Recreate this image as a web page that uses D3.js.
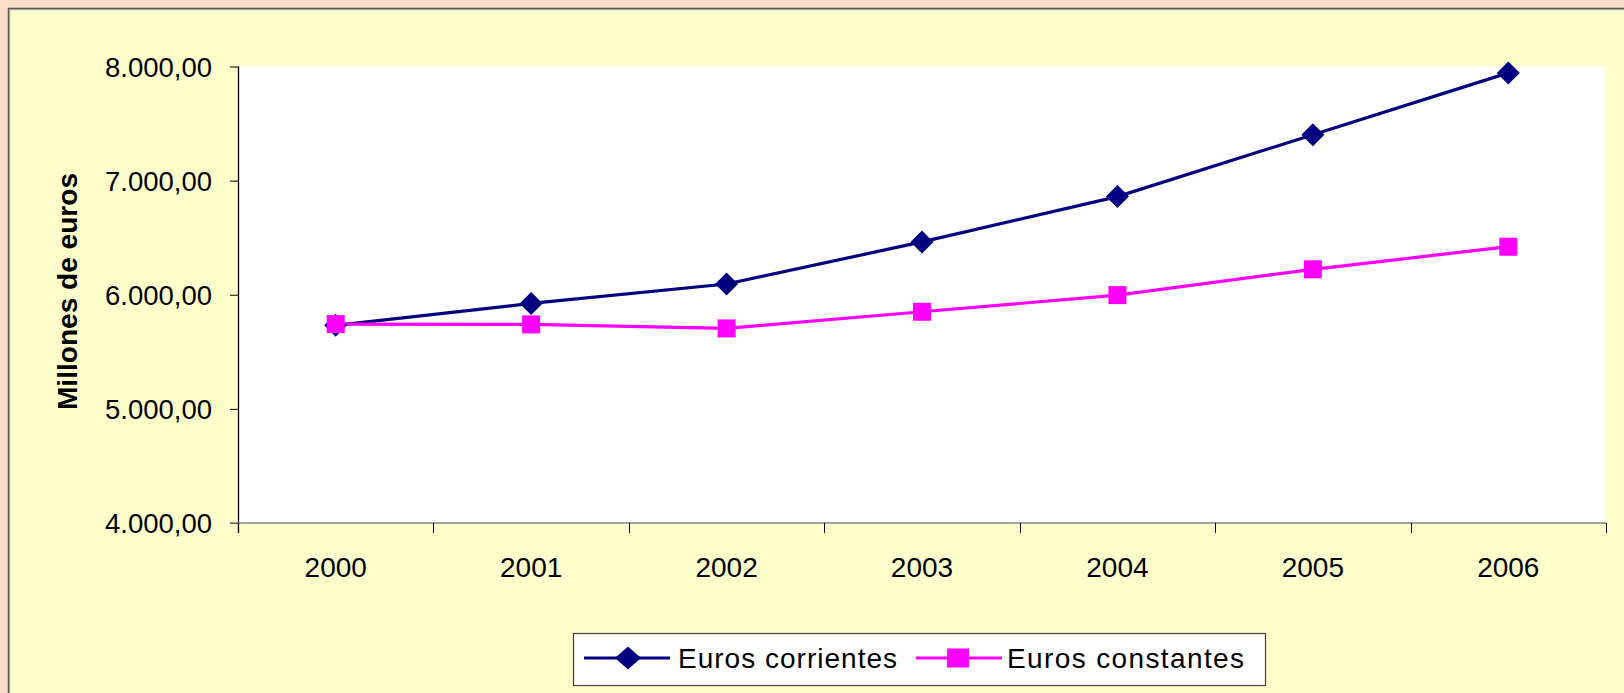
<!DOCTYPE html>
<html>
<head>
<meta charset="utf-8">
<script src="https://cdn.jsdelivr.net/npm/d3@7"></script>
<style>
  html, body { margin: 0; padding: 0; background: #FADEC8; }
  svg { display: block; }
</style>
</head>
<body>
<svg id="chart" width="1624" height="693"></svg>
<script>
const years = ["2000", "2001", "2002", "2003", "2004", "2005", "2006"];
const eurosCorrientes = [5732, 5924, 6094, 6463, 6860, 7402, 7944];
const eurosConstantes = [5743, 5740, 5705, 5851, 5997, 6223, 6421];
const yTicks = [4000, 5000, 6000, 7000, 8000];
const seriesNames = ["Euros corrientes", "Euros constantes"];
const yTitle = "Millones de euros";

const svg = d3.select("#chart");
const W = 1624, H = 693;

// outer frame
svg.append("rect").attr("x", 0).attr("y", 0).attr("width", W).attr("height", H).attr("fill", "#FADEC8");
svg.append("rect").attr("x", 8).attr("y", 8).attr("width", W).attr("height", H).attr("fill", "#FFFFCC");
svg.append("line").attr("x1", 8.5).attr("x2", 8.5).attr("y1", 8).attr("y2", H).attr("stroke", "#5a5a5a").attr("stroke-width", 1.5);
svg.append("line").attr("x1", 8).attr("x2", W).attr("y1", 8.5).attr("y2", 8.5).attr("stroke", "#5a5a5a").attr("stroke-width", 1.5);
svg.append("line").attr("x1", 9.7).attr("x2", 9.7).attr("y1", 9.5).attr("y2", H).attr("stroke", "#9a9a9a").attr("stroke-width", 1);
svg.append("line").attr("x1", 9.5).attr("x2", W).attr("y1", 9.7).attr("y2", 9.7).attr("stroke", "#9a9a9a").attr("stroke-width", 1);

const plotL = 238, plotR = 1606, plotT = 66.5, plotB = 523;

svg.append("rect").attr("x", plotL).attr("y", plotT).attr("width", plotR - plotL).attr("height", plotB - plotT).attr("fill", "#FFFFFF");

const x = d3.scaleBand().domain(years).range([plotL, plotR]).padding(0);
const cx = d => x(d) + x.bandwidth() / 2;
const y = d3.scaleLinear().domain([4000, 8000]).range([plotB, plotT]);

const locale = d3.formatLocale({ decimal: ",", thousands: ".", grouping: [3], currency: ["", "€"] });
const fmt = locale.format(",.2f");

// y axis
const yAxis = d3.axisLeft(y).tickValues(yTicks).tickFormat(fmt).tickSize(8).tickPadding(18);
const gy = svg.append("g").attr("transform", `translate(${plotL},0)`).call(yAxis);
gy.select(".domain").remove();
gy.selectAll(".tick line").attr("stroke", "#000").attr("stroke-width", 1);
gy.selectAll(".tick text").attr("font-family", "'Liberation Sans', Arial, sans-serif").attr("font-size", 27.5).attr("fill", "#000").attr("dy", "0.36em");
svg.append("line").attr("x1", plotL + 0.5).attr("x2", plotL + 0.5).attr("y1", plotT).attr("y2", plotB + 10).attr("stroke", "#000").attr("stroke-width", 1.3);

// x axis
svg.append("line").attr("x1", plotL - 8).attr("x2", plotR).attr("y1", plotB).attr("y2", plotB).attr("stroke", "#808080").attr("stroke-width", 1.5);
const bounds = years.map(d => x(d)).concat([plotR]);
svg.append("g").selectAll("line").data(bounds).join("line")
  .attr("x1", d => Math.round(d) + 0.5).attr("x2", d => Math.round(d) + 0.5)
  .attr("y1", plotB).attr("y2", plotB + 10).attr("stroke", "#000").attr("stroke-width", 1);
svg.append("g").selectAll("text").data(years).join("text")
  .attr("x", d => cx(d)).attr("y", 577)
  .attr("text-anchor", "middle")
  .attr("font-family", "'Liberation Sans', Arial, sans-serif").attr("font-size", 28).attr("fill", "#000")
  .text(d => d);

// y title
svg.append("text")
  .attr("transform", "translate(77,291.5) rotate(-90)")
  .attr("text-anchor", "middle")
  .attr("font-family", "'Liberation Sans', Arial, sans-serif").attr("font-size", 27).attr("font-weight", "bold")
  .attr("textLength", 237).attr("lengthAdjust", "spacingAndGlyphs")
  .attr("fill", "#000")
  .text(yTitle);

// lines
const line = d3.line().x((d, i) => cx(years[i])).y(d => y(d));
const colors = ["#000080", "#FF00FF"];
const data = [eurosCorrientes, eurosConstantes];

data.forEach((vals, si) => {
  svg.append("path").datum(vals).attr("d", line).attr("fill", "none")
    .attr("stroke", colors[si]).attr("stroke-width", 3.2).attr("stroke-linejoin", "round");
});

const diamond = (g, px, py, rx, ry) => g.append("path")
  .attr("d", `M${px},${py - ry}L${px + rx},${py}L${px},${py + ry}L${px - rx},${py}Z`);
const square = (g, px, py, w, h) => g.append("rect").attr("x", px - w / 2).attr("y", py - h / 2).attr("width", w).attr("height", h);

const mk = svg.append("g");
eurosCorrientes.forEach((v, i) => diamond(mk, cx(years[i]), y(v), 11.5, 11.5).attr("fill", colors[0]));
const mk2 = svg.append("g");
eurosConstantes.forEach((v, i) => square(mk2, cx(years[i]), y(v), 18, 18).attr("fill", colors[1]));

// legend
const lg = svg.append("g");
lg.append("rect").attr("x", 573.5).attr("y", 633.5).attr("width", 692).attr("height", 52)
  .attr("fill", "#FFFFFF").attr("stroke", "#404040").attr("stroke-width", 1.2);
const legY = 658;
lg.append("line").attr("x1", 584).attr("x2", 670).attr("y1", legY).attr("y2", legY).attr("stroke", colors[0]).attr("stroke-width", 3.2);
diamond(lg, 628, legY, 13, 11.5).attr("fill", colors[0]);
lg.append("text").attr("x", 678).attr("y", legY + 10)
  .attr("font-family", "'Liberation Sans', Arial, sans-serif").attr("font-size", 28).attr("fill", "#000")
  .attr("textLength", 219).attr("lengthAdjust", "spacing")
  .text(seriesNames[0]);
lg.append("line").attr("x1", 916).attr("x2", 1002).attr("y1", legY).attr("y2", legY).attr("stroke", colors[1]).attr("stroke-width", 3.2);
square(lg, 958, legY, 22, 19).attr("fill", colors[1]);
lg.append("text").attr("x", 1007).attr("y", legY + 10)
  .attr("font-family", "'Liberation Sans', Arial, sans-serif").attr("font-size", 28).attr("fill", "#000")
  .attr("textLength", 237).attr("lengthAdjust", "spacing")
  .text(seriesNames[1]);
</script>
</body>
</html>
